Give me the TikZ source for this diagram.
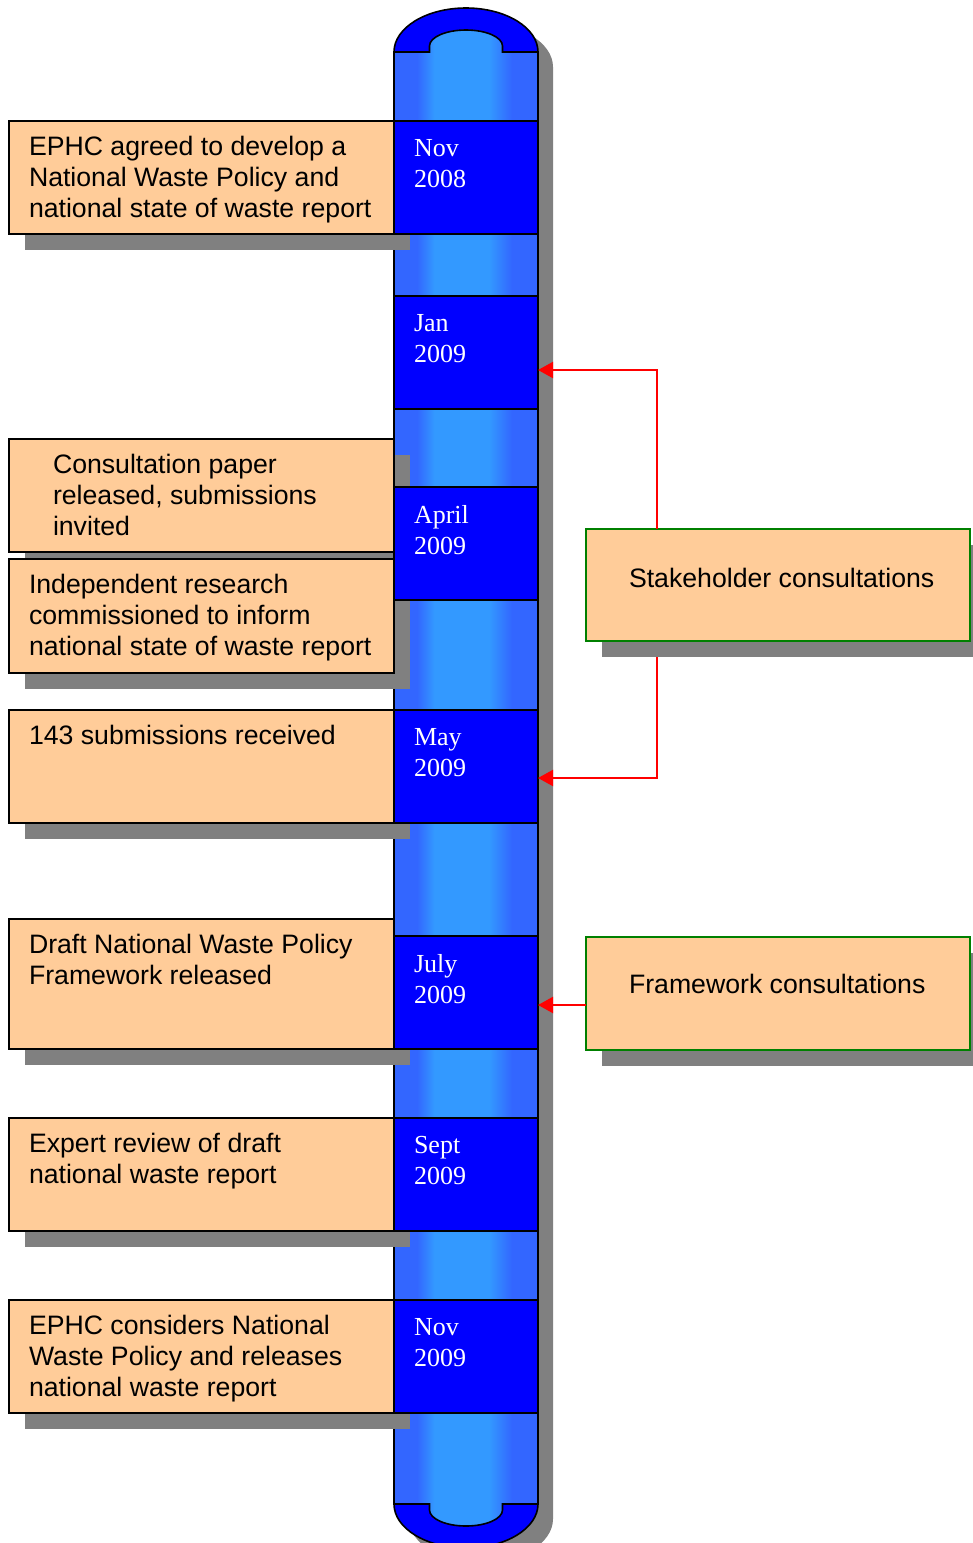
\documentclass[tikz,border=0pt]{standalone}
\usepackage{fontspec}
\setmainfont{Liberation Serif}
\newfontfamily\sansf{Liberation Sans}
\usetikzlibrary{fit,shadows,arrows.meta}
\definecolor{peach}{HTML}{FFCC99}
\definecolor{dblue}{HTML}{0000FF}
\definecolor{cedge}{HTML}{3366FF}
\definecolor{cmid}{HTML}{3399FF}
\definecolor{shad}{HTML}{808080}
\definecolor{gborder}{HTML}{008000}
\definecolor{ared}{HTML}{FF0000}
\pgfdeclarehorizontalshading{cylshade}{100bp}{color(0bp)=(cedge); color(33bp)=(cedge); color(39bp)=(cmid); color(58bp)=(cmid); color(66bp)=(cedge); color(100bp)=(cedge)}
\begin{document}
\begin{tikzpicture}[x=0.75pt,y=-0.75pt,
  every node/.style={outer sep=0pt},
  myshadow/.style={drop shadow={shadow xshift=12pt, shadow yshift=-12pt, fill=shad, opacity=1}},
  evbox/.style={draw=black, line width=1.2pt, fill=peach, inner sep=0pt, myshadow},
  datebox/.style={draw=black, line width=1.2pt, fill=dblue, inner sep=0pt},
  rbox/.style={draw=gborder, line width=1.2pt, fill=peach, inner sep=0pt, myshadow},
  evtext/.style={anchor=north west, inner sep=0pt, align=left, font=\sansf\fontsize{20}{23.25}\selectfont},
  datetext/.style={anchor=north west, inner sep=0pt, align=left, text=white, font=\fontsize{19.5}{23.25}\selectfont},
  rtext/.style={anchor=base west, inner sep=0pt, font=\sansf\fontsize{20}{24}\selectfont},
  rarrow/.style={draw=ared, line width=1.5pt, -{Triangle[length=11.25pt,width=12pt]}},
  cyl/.style={draw=black, line width=1.2pt}
]
\useasboundingbox (0,0) rectangle (973,1543);
\clip (0,0) rectangle (973,1543);

% cylinder shadow
\fill[shad, shift={(15,15)}] (394,52) arc[start angle=180, end angle=0, x radius=54pt, y radius=33pt]
  -- (538,1504) arc[start angle=0, end angle=-180, x radius=54pt, y radius=33pt] -- cycle;

% domes
\filldraw[cyl, fill=dblue] (394,52) arc[start angle=180, end angle=0, x radius=54pt, y radius=33pt] -- cycle;
\filldraw[cyl, fill=dblue] (538,1504) arc[start angle=0, end angle=-180, x radius=54pt, y radius=33pt] -- cycle;

% body
\shade[shading=cylshade] (394,52) -- (429.5,52) -- (429.5,46)
  arc[start angle=180, end angle=0, x radius=27.375pt, y radius=12pt]
  -- (502.5,52) -- (538,52) -- (538,1504) -- (502.5,1504) -- (502.5,1510)
  arc[start angle=0, end angle=-180, x radius=27.375pt, y radius=12pt]
  -- (429.5,1504) -- (394,1504) -- cycle;
\draw[cyl] (394,52) -- (429.5,52) -- (429.5,46)
  arc[start angle=180, end angle=0, x radius=27.375pt, y radius=12pt]
  -- (502.5,52) -- (538,52) -- (538,1504) -- (502.5,1504) -- (502.5,1510)
  arc[start angle=0, end angle=-180, x radius=27.375pt, y radius=12pt]
  -- (429.5,1504) -- (394,1504) -- cycle;

% left event boxes
\node[evbox, fit={(9,121) (394,234)}] (e1) {};
\node[evtext] (e1t) at ([xshift=15pt,yshift=-11.6pt]e1.north west) {EPHC agreed to develop a\\National Waste Policy and\\national state of waste report};
\node[evbox, fit={(9,439) (394,552)}] (e2) {};
\node[evtext] (e2t) at ([xshift=33pt,yshift=-11.6pt]e2.north west) {Consultation paper\\released, submissions\\invited};
\node[evbox, fit={(9,559) (394,673)}] (e3) {};
\node[evtext] (e3t) at ([xshift=15pt,yshift=-11.6pt]e3.north west) {Independent research\\commissioned to inform\\national state of waste report};
\node[evbox, fit={(9,710) (394,823)}] (e4) {};
\node[evtext] (e4t) at ([xshift=15pt,yshift=-11.6pt]e4.north west) {143 submissions received};
\node[evbox, fit={(9,919) (394,1049)}] (e5) {};
\node[evtext] (e5t) at ([xshift=15pt,yshift=-11.6pt]e5.north west) {Draft National Waste Policy\\Framework released};
\node[evbox, fit={(9,1118) (394,1231)}] (e6) {};
\node[evtext] (e6t) at ([xshift=15pt,yshift=-11.6pt]e6.north west) {Expert review of draft\\national waste report};
\node[evbox, fit={(9,1300) (394,1413)}] (e7) {};
\node[evtext] (e7t) at ([xshift=15pt,yshift=-11.6pt]e7.north west) {EPHC considers National\\Waste Policy and releases\\national waste report};

% date boxes
\node[datebox, fit={(394,121) (538,234)}] (d1) {};
\node[datetext] (d1t) at ([xshift=15pt,yshift=-13.5pt]d1.north west) {Nov\\2008};
\node[datebox, fit={(394,296) (538,409)}] (d2) {};
\node[datetext] (d2t) at ([xshift=15pt,yshift=-13.5pt]d2.north west) {Jan\\2009};
\node[datebox, fit={(394,487) (538,600)}] (d3) {};
\node[datetext] (d3t) at ([xshift=15pt,yshift=-13.5pt]d3.north west) {April\\2009};
\node[datebox, fit={(394,710) (538,823)}] (d4) {};
\node[datetext] (d4t) at ([xshift=15pt,yshift=-13.5pt]d4.north west) {May\\2009};
\node[datebox, fit={(394,936) (538,1049)}] (d5) {};
\node[datetext] (d5t) at ([xshift=15pt,yshift=-13.5pt]d5.north west) {July\\2009};
\node[datebox, fit={(394,1118) (538,1231)}] (d6) {};
\node[datetext] (d6t) at ([xshift=15pt,yshift=-13.5pt]d6.north west) {Sept\\2009};
\node[datebox, fit={(394,1300) (538,1413)}] (d7) {};
\node[datetext] (d7t) at ([xshift=15pt,yshift=-13.5pt]d7.north west) {Nov\\2009};

% right boxes
\node[rbox, fit={(586,529) (970,641)}] (stake) {};
\node[rtext] (staket) at ([xshift=32.25pt,yshift=-43.5pt]stake.north west) {Stakeholder consultations};
\node[rbox, fit={(586,937) (970,1050)}] (frame) {};
\node[rtext] (framet) at ([xshift=32.25pt,yshift=-42pt]frame.north west) {Framework consultations};

% connectors
\draw[rarrow] ([xshift=53.25pt]stake.north west) |- ([yshift=-13.125pt]d2.east);
\draw[rarrow] ([xshift=53.25pt,yshift=-12pt]stake.south west) |- ([yshift=-8.625pt]d4.east);
\coordinate (fa) at ([yshift=-8.625pt]frame.west);
\draw[rarrow] (fa) -- (fa -| d5.east);
\end{tikzpicture}
\end{document}
